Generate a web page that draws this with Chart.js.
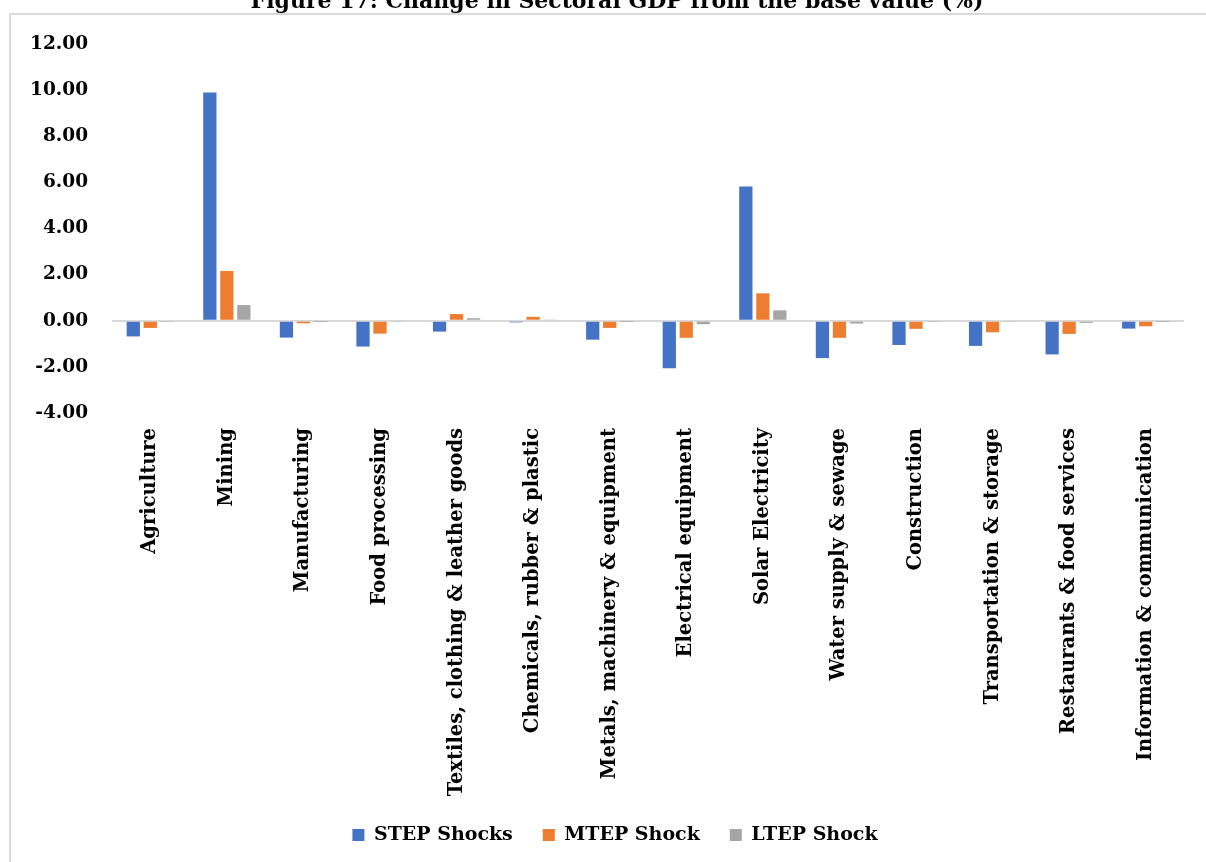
<!DOCTYPE html>
<html>
<head>
<meta charset="utf-8">
<script src="https://cdn.jsdelivr.net/npm/chart.js@4.4.1/dist/chart.umd.min.js"></script>
<style>
  html, body { margin: 0; padding: 0; background: #ffffff; overflow: hidden; width: 1206px; height: 862px; }
  #frame { position: absolute; left: 9px; top: 13px; width: 1300px; height: 1000px; border: 2px solid #d9d9d9; box-sizing: border-box; }
  #c { position: absolute; left: 0; top: -16px; }
</style>
</head>
<body>
<div id="frame"></div>
<canvas id="c" width="1206" height="883"></canvas>
<script>
const titleText = 'Figure 17: Change in Sectoral GDP from the base value (%)';
const categories = [
  'Agriculture', 'Mining', 'Manufacturing', 'Food processing',
  'Textiles, clothing & leather goods', 'Chemicals, rubber & plastic',
  'Metals, machinery & equipment', 'Electrical equipment', 'Solar Electricity',
  'Water supply & sewage', 'Construction', 'Transportation & storage',
  'Restaurants & food services', 'Information & communication'
];
const seriesNames = ['STEP Shocks', 'MTEP Shock', 'LTEP Shock'];
const stepShocks = [-0.68, 9.90, -0.73, -1.12, -0.47, -0.07, -0.82, -2.06, 5.82, -1.62, -1.05, -1.09, -1.46, -0.34];
const mtepShock  = [-0.31, 2.16, -0.11, -0.56, 0.29, 0.17, -0.31, -0.74, 1.19, -0.74, -0.35, -0.50, -0.57, -0.24];
const ltepShock  = [-0.03, 0.68, -0.01, -0.05, 0.11, 0.03, -0.01, -0.15, 0.45, -0.12, -0.03, -0.05, -0.09, -0.01];
const yMin = -4, yMax = 12, yStep = 2;

const colors = ['#4472C4', '#ED7D31', '#A5A5A5'];
const FONT = "'DejaVu Serif', 'Liberation Serif', serif";

// nudges the legend and title blocks to where they sit in the original figure
const blockShift = {
  id: 'blockShift',
  afterLayout(chart) {
    const l = chart.legend;
    if (l) {
      l.left += 23; l.right += 23;
      l.top -= 12.5; l.bottom -= 12.5;
    }
    const t = chart.titleBlock;
    if (t) { t.left += 25; t.right += 25; }
  }
};

new Chart(document.getElementById('c'), {
  type: 'bar',
  data: {
    labels: categories,
    datasets: [stepShocks, mtepShock, ltepShock].map((d, i) => ({
      label: seriesNames[i],
      data: d,
      backgroundColor: colors[i],
      borderWidth: 0,
      categoryPercentage: 0.666,
      barPercentage: 0.78
    }))
  },
  plugins: [blockShift],
  options: {
    responsive: false,
    animation: false,
    devicePixelRatio: 1,
    layout: { padding: { left: 0, right: 22, top: 0, bottom: 0 } },
    plugins: {
      title: {
        display: true,
        text: titleText,
        color: '#000',
        font: { family: FONT, size: 22, weight: 'bold' },
        padding: { top: 5.2, bottom: 28.4 }
      },
      legend: {
        position: 'bottom',
        labels: {
          color: '#000',
          font: { family: FONT, size: 19, weight: 'bold' },
          boxWidth: 12,
          boxHeight: 12,
          padding: 30
        }
      },
      tooltip: { enabled: false }
    },
    scales: {
      x: {
        grid: { display: false, drawTicks: false },
        border: { display: false },
        ticks: {
          color: '#000',
          font: { family: FONT, size: 19.5, weight: 'bold' },
          minRotation: 90,
          maxRotation: 90,
          autoSkip: false,
          padding: 15
        },
        afterFit: (s) => { s.height = 395; }
      },
      y: {
        min: yMin,
        max: yMax,
        grid: {
          drawTicks: false,
          color: (ctx) => (ctx.tick && ctx.tick.value === 0 ? '#d9d9d9' : 'rgba(0,0,0,0)'),
          lineWidth: 2
        },
        border: { display: false },
        ticks: {
          stepSize: yStep,
          color: '#000',
          font: { family: FONT, size: 18.5, weight: 'bold' },
          padding: 24,
          callback: (v) => Number(v).toFixed(2)
        },
        afterFit: (s) => { s.width = 112; }
      }
    }
  }
});
</script>
</body>
</html>
